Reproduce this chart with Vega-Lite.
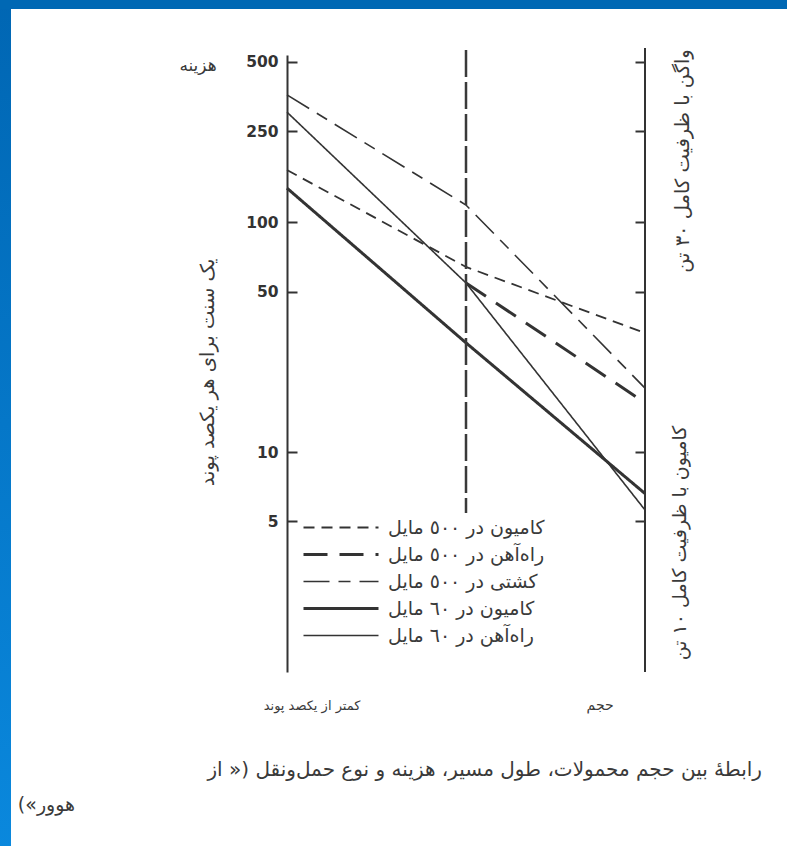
{
  "$schema": "https://vega.github.io/schema/vega-lite/v6.json",
  "width": 358,
  "height": 617,
  "autosize": {"type": "none"},
  "padding": {"left": 287, "top": 55, "right": 142, "bottom": 174},
  "background": "#ffffff",
  "config": {"view": {"stroke": null}, "font": "DejaVu Sans"},
  "resolve": {"axis": {"y": "independent"}},
  "layer": [
    {
      "data": {"values": [
        {"series": "کامیون در ٥٠٠ مایل", "volume": 0, "cost": 169},
        {"series": "کامیون در ٥٠٠ مایل", "volume": 1, "cost": 64},
        {"series": "کامیون در ٥٠٠ مایل", "volume": 2, "cost": 33},
        {"series": "راه‌آهن در ٥٠٠ مایل", "volume": 1, "cost": 54.5},
        {"series": "راه‌آهن در ٥٠٠ مایل", "volume": 2, "cost": 16.4},
        {"series": "کشتی در ٥٠٠ مایل", "volume": 0, "cost": 359},
        {"series": "کشتی در ٥٠٠ مایل", "volume": 1, "cost": 119},
        {"series": "کشتی در ٥٠٠ مایل", "volume": 2, "cost": 19},
        {"series": "کامیون در ٦٠ مایل", "volume": 0, "cost": 141},
        {"series": "کامیون در ٦٠ مایل", "volume": 1, "cost": 29.9},
        {"series": "کامیون در ٦٠ مایل", "volume": 2, "cost": 6.6},
        {"series": "راه‌آهن در ٦٠ مایل", "volume": 0, "cost": 302},
        {"series": "راه‌آهن در ٦٠ مایل", "volume": 1, "cost": 54.5},
        {"series": "راه‌آهن در ٦٠ مایل", "volume": 2, "cost": 5.6}
      ]},
      "mark": {"type": "line", "color": "#333333", "strokeCap": "butt"},
      "encoding": {
        "x": {
          "field": "volume", "type": "quantitative",
          "scale": {"domain": [0, 2], "nice": false, "zero": false},
          "axis": {
            "labels": false, "ticks": false, "grid": false,
            "domainColor": "#333333", "domainWidth": 2, "title": null
          }
        },
        "y": {
          "field": "cost", "type": "quantitative",
          "scale": {"type": "log", "domain": [1.1032, 535.6], "nice": false},
          "axis": {
            "orient": "left",
            "values": [5, 10, 50, 100, 250, 500],
            "format": "d",
            "grid": false,
            "domainColor": "#333333", "domainWidth": 2,
            "tickColor": "#333333", "tickWidth": 2, "tickSize": -10,
            "labelPadding": 19,
            "labelFont": "DejaVu Sans", "labelFontSize": 15.5, "labelFontWeight": "bold", "labelColor": "#333333",
            "title": "یک سنت برای هر یکصد پوند",
            "titleFont": "DejaVu Sans", "titleFontSize": 19.5, "titleFontWeight": "normal", "titleColor": "#3a3a3a",
            "titleAngle": 270, "titleAlign": "center", "titleBaseline": "middle",
            "titleX": -80, "titleY": 317
          }
        },
        "detail": {"field": "series"},
        "strokeDash": {
          "field": "series", "type": "nominal",
          "scale": {
            "domain": ["کامیون در ٥٠٠ مایل", "راه‌آهن در ٥٠٠ مایل", "کشتی در ٥٠٠ مایل", "کامیون در ٦٠ مایل", "راه‌آهن در ٦٠ مایل"],
            "range": [[11, 7], [24, 12], [26, 9, 12, 9], [1, 0], [1, 0]]
          },
          "legend": {
            "title": null, "orient": "none", "legendX": 12, "legendY": 463,
            "symbolType": "M-1,0H14", "symbolSize": 100, "symbolStrokeColor": "#333333", "symbolFillColor": "transparent",
            "labelFont": "DejaVu Sans", "labelFontSize": 19, "labelColor": "#3a3a3a",
            "labelOffset": 70, "rowPadding": 7, "padding": 0, "labelLimit": 300
          }
        },
        "strokeWidth": {
          "field": "series", "type": "nominal",
          "scale": {
            "type": "ordinal",
            "domain": ["کامیون در ٥٠٠ مایل", "راه‌آهن در ٥٠٠ مایل", "کشتی در ٥٠٠ مایل", "کامیون در ٦٠ مایل", "راه‌آهن در ٦٠ مایل"],
            "range": [1.8, 3, 1.6, 3, 1.6]
          },
          "legend": {
            "title": null, "orient": "none", "legendX": 12, "legendY": 463,
            "symbolType": "M-1,0H14", "symbolSize": 100, "symbolStrokeColor": "#333333", "symbolFillColor": "transparent",
            "labelFont": "DejaVu Sans", "labelFontSize": 19, "labelColor": "#3a3a3a",
            "labelOffset": 70, "rowPadding": 7, "padding": 0, "labelLimit": 300
          }
        }
      }
    },
    {
      "data": {"values": [{}]},
      "mark": {"type": "rule", "color": "#333333", "strokeWidth": 2},
      "encoding": {
        "x": {"datum": 2, "type": "quantitative", "scale": {"domain": [0, 2], "nice": false, "zero": false}, "axis": null},
        "y": {
          "datum": 1.1032, "type": "quantitative",
          "scale": {"type": "log", "domain": [1.1032, 535.6], "nice": false},
          "axis": {
            "orient": "right", "values": [5, 10, 50, 100, 250, 500],
            "labels": false, "domain": false, "grid": false,
            "tickColor": "#333333", "tickWidth": 2, "tickSize": -10, "title": null
          }
        },
        "y2": {"datum": 574.5}
      }
    },
    {
      "data": {"values": [{}]},
      "mark": {"type": "rule", "color": "#3a3a3a", "strokeWidth": 2.5, "strokeDash": [27, 5]},
      "encoding": {
        "x": {"datum": 1, "type": "quantitative", "scale": {"domain": [0, 2], "nice": false, "zero": false}, "axis": null},
        "y": {"datum": 563, "type": "quantitative", "scale": {"type": "log", "domain": [1.1032, 535.6], "nice": false}, "axis": null},
        "y2": {"datum": 5.43}
      }
    },
    {
      "data": {"values": [{}]},
      "mark": {"type": "text", "text": "هزینه", "font": "DejaVu Sans", "fontSize": 17, "color": "#3a3a3a", "align": "center", "baseline": "middle"},
      "encoding": {
        "x": {"datum": -0.497, "type": "quantitative", "scale": {"domain": [0, 2], "nice": false, "zero": false}, "axis": null},
        "y": {"datum": 479.7, "type": "quantitative", "scale": {"type": "log", "domain": [1.1032, 535.6], "nice": false}, "axis": null}
      }
    },
    {
      "data": {"values": [{}]},
      "mark": {"type": "text", "text": "کمتر از یکصد پوند", "font": "DejaVu Sans", "fontSize": 13, "color": "#3a3a3a", "align": "center", "baseline": "middle"},
      "encoding": {
        "x": {"datum": 0.14, "type": "quantitative", "scale": {"domain": [0, 2], "nice": false, "zero": false}, "axis": null},
        "y": {"datum": 0.7843, "type": "quantitative", "scale": {"type": "log", "domain": [1.1032, 535.6], "nice": false}, "axis": null}
      }
    },
    {
      "data": {"values": [{}]},
      "mark": {"type": "text", "text": "حجم", "font": "DejaVu Sans", "fontSize": 14, "color": "#3a3a3a", "align": "center", "baseline": "middle"},
      "encoding": {
        "x": {"datum": 1.749, "type": "quantitative", "scale": {"domain": [0, 2], "nice": false, "zero": false}, "axis": null},
        "y": {"datum": 0.7843, "type": "quantitative", "scale": {"type": "log", "domain": [1.1032, 535.6], "nice": false}, "axis": null}
      }
    },
    {
      "data": {"values": [{}]},
      "mark": {"type": "text", "text": "واگن با ظرفیت کامل ٣٠ تن", "font": "DejaVu Sans", "fontSize": 19.5, "color": "#3a3a3a", "align": "center", "baseline": "middle", "angle": 270},
      "encoding": {
        "x": {"datum": 2.212, "type": "quantitative", "scale": {"domain": [0, 2], "nice": false, "zero": false}, "axis": null},
        "y": {"datum": 185, "type": "quantitative", "scale": {"type": "log", "domain": [1.1032, 535.6], "nice": false}, "axis": null}
      }
    },
    {
      "data": {"values": [{}]},
      "mark": {"type": "text", "text": "کامیون با ظرفیت کامل ١٠ تن", "font": "DejaVu Sans", "fontSize": 19, "color": "#3a3a3a", "align": "center", "baseline": "middle", "angle": 270},
      "encoding": {
        "x": {"datum": 2.196, "type": "quantitative", "scale": {"domain": [0, 2], "nice": false, "zero": false}, "axis": null},
        "y": {"datum": 4.02, "type": "quantitative", "scale": {"type": "log", "domain": [1.1032, 535.6], "nice": false}, "axis": null}
      }
    },
    {
      "data": {"values": [{}]},
      "mark": {"type": "text", "text": "رابطهٔ بین حجم محمولات، طول مسیر، هزینه و نوع حمل‌ونقل (« از", "font": "DejaVu Sans", "fontSize": 20, "color": "#3a3a3a", "align": "right", "baseline": "middle"},
      "encoding": {
        "x": {"datum": 2.6536, "type": "quantitative", "scale": {"domain": [0, 2], "nice": false, "zero": false}, "axis": null},
        "y": {"datum": 0.413, "type": "quantitative", "scale": {"type": "log", "domain": [1.1032, 535.6], "nice": false}, "axis": null}
      }
    },
    {
      "data": {"values": [{}]},
      "mark": {"type": "text", "text": "(«هوور", "font": "DejaVu Sans", "fontSize": 19, "color": "#3a3a3a", "align": "right", "baseline": "middle"},
      "encoding": {
        "x": {"datum": -1.184, "type": "quantitative", "scale": {"domain": [0, 2], "nice": false, "zero": false}, "axis": null},
        "y": {"datum": 0.2908, "type": "quantitative", "scale": {"type": "log", "domain": [1.1032, 535.6], "nice": false}, "axis": null}
      }
    },
    {
      "data": {"values": [{}]},
      "mark": {"type": "rect", "color": {"gradient": "linear", "x1": 0, "y1": 0, "x2": 0, "y2": 1, "stops": [{"offset": 0, "color": "#0066b3"}, {"offset": 1, "color": "#0a88dd"}]}},
      "encoding": {
        "x": {"datum": -1.7, "type": "quantitative", "scale": {"domain": [0, 2], "nice": false, "zero": false}, "axis": null},
        "x2": {"datum": -1.5419},
        "y": {"datum": 0.18, "type": "quantitative", "scale": {"type": "log", "domain": [1.1032, 535.6], "nice": false}, "axis": null},
        "y2": {"datum": 1000}
      }
    },
    {
      "data": {"values": [{}]},
      "mark": {"type": "rect", "color": "#0068b4"},
      "encoding": {
        "x": {"datum": -1.7, "type": "quantitative", "scale": {"domain": [0, 2], "nice": false, "zero": false}, "axis": null},
        "x2": {"datum": 3.0},
        "y": {"datum": 849.2, "type": "quantitative", "scale": {"type": "log", "domain": [1.1032, 535.6], "nice": false}, "axis": null},
        "y2": {"datum": 1000}
      }
    }
  ]
}
